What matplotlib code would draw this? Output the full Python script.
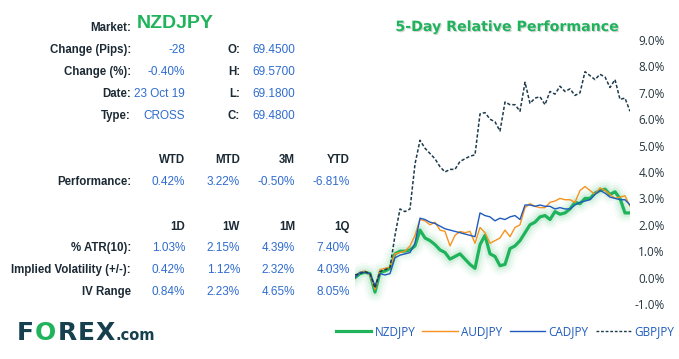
import numpy as np
import matplotlib
matplotlib.use("Agg")
import matplotlib.pyplot as plt
import matplotlib.patheffects as pe
from matplotlib.lines import Line2D

# ---------------- data ----------------
market = "NZDJPY"
info_labels = ["Change (Pips):", "Change (%):", "Date:", "Type:"]
info_values = ["-28", "-0.40%", "23 Oct 19", "CROSS"]
ohlc_labels = ["O:", "H:", "L:", "C:"]
ohlc_values = ["69.4500", "69.5700", "69.1800", "69.4800"]

perf_headers = ["WTD", "MTD", "3M", "YTD"]
perf_values = ["0.42%", "3.22%", "-0.50%", "-6.81%"]

vol_headers = ["1D", "1W", "1M", "1Q"]
vol_labels = ["% ATR(10):", "Implied Volatility (+/-):", "IV Range"]
atr_values = ["1.03%", "2.15%", "4.39%", "7.40%"]
iv_values = ["0.42%", "1.12%", "2.32%", "4.03%"]
ivr_values = ["0.84%", "2.23%", "4.65%", "8.05%"]

series_names = ["NZDJPY", "AUDJPY", "CADJPY", "GBPJPY"]

nzdjpy = [0.0, 0.15, 0.2, 0.15, -0.55, 0.2, 0.25, 0.35, 0.9, 1.0,
          1.0, 1.05, 1.2, 1.8, 1.5, 1.4, 1.25, 1.05, 0.95, 0.7,
          0.8, 0.9, 0.7, 0.5, 0.35, 1.25, 1.6, 0.9, 0.8, 0.45,
          0.5, 1.1, 1.2, 1.4, 1.7, 2.0, 2.1, 2.3, 2.35, 2.2,
          2.5, 2.4, 2.45, 2.6, 2.85, 2.8, 3.0, 3.0, 3.2, 3.3,
          3.35, 3.15, 3.25, 3.0, 2.45, 2.45]
audjpy = [0.05, 0.2, 0.25, 0.1, -0.45, 0.3, 0.35, 0.4, 0.9, 0.95,
          1.0, 1.2, 1.6, 2.2, 2.15, 2.0, 2.1, 1.8, 1.75, 1.2,
          1.6, 1.75, 1.7, 1.75, 1.3, 1.9, 1.7, 1.3, 1.4, 1.5,
          1.8, 1.55, 1.9, 2.0, 2.65, 2.8, 2.7, 2.65, 2.65, 2.85,
          2.9, 3.0, 2.95, 2.95, 2.85, 3.3, 3.45, 3.3, 3.15, 3.4,
          3.3, 3.15, 3.0, 3.05, 3.1, 2.7]
cadjpy = [0.0, 0.2, 0.2, 0.15, -0.3, 0.15, 0.1, 0.15, 0.75, 0.85,
          0.9, 0.95, 1.3, 2.25, 2.2, 2.1, 2.05, 1.95, 1.85, 1.8,
          1.75, 1.7, 1.65, 1.6, 1.55, 2.45, 2.35, 2.3, 2.15, 2.25,
          2.2, 2.3, 2.35, 2.2, 2.75, 2.75, 2.7, 2.75, 2.7, 2.7,
          2.6, 2.65, 2.6, 2.6, 2.75, 2.85, 2.9, 2.95, 3.15, 3.3,
          3.2, 3.05, 3.0, 2.95, 2.95, 2.75]
gbpjpy = [0.1, 0.15, 0.23, 0.15, -0.4, 0.23, 0.3, 0.38, 1.6, 2.6,
          2.5, 2.6, 4.3, 5.2, 4.9, 4.7, 4.5, 4.2, 4.0, 4.1,
          4.1, 4.4, 4.5, 4.6, 4.65, 6.2, 6.25, 6.0, 5.9, 5.55,
          6.65, 6.55, 6.55, 6.3, 7.4, 6.6, 6.8, 6.85, 6.55, 7.05,
          6.95, 7.25, 7.05, 7.15, 6.9, 7.0, 7.8, 7.65, 7.5, 7.7,
          7.6, 7.2, 7.5, 6.75, 6.8, 6.3]

ytick_values = [-1, 0, 1, 2, 3, 4, 5, 6, 7, 8, 9]

# ---------------- style ----------------
W, H = 679, 359
GREEN = "#1fb35c"
ORANGE = "#f7931e"
BLUE = "#1f5bbd"
DARK = "#1d3b4d"
LABEL = "#1c2a35"
VALUE = "#2f6ccf"

fig = plt.figure(figsize=(W / 100, H / 100), dpi=100)
renderer = fig.canvas.get_renderer()

def fx(x):
    return x / W

def fy(y):
    return 1 - y / H

TF = "Liberation Sans"
FS = 8.3

# ---------------- left table ----------------
fig.text(fx(131), fy(28), "Market:", ha="right", va="center", fontsize=FS,
         fontweight="bold", color=LABEL, family=TF)
fig.text(fx(137), fy(23), market, ha="left", va="center", fontsize=14,
         fontweight="bold", color=GREEN, family=TF)

rows_y = [50, 72, 94, 116]
for lab, val, ol, ov, y in zip(info_labels, info_values, ohlc_labels, ohlc_values, rows_y):
    fig.text(fx(131), fy(y), lab, ha="right", va="center", fontsize=FS,
             fontweight="bold", color=LABEL, family=TF)
    fig.text(fx(185), fy(y), val, ha="right", va="center", fontsize=FS + 0.2,
             color=VALUE, family=TF)
    fig.text(fx(240), fy(y), ol, ha="right", va="center", fontsize=FS,
             fontweight="bold", color=LABEL, family=TF)
    fig.text(fx(295), fy(y), ov, ha="right", va="center", fontsize=FS + 0.2,
             color=VALUE, family=TF)

cols_x = [185, 240, 295, 350]
for hd, x in zip(perf_headers, cols_x):
    fig.text(fx(x), fy(160), hd, ha="right", va="center", fontsize=FS,
             fontweight="bold", color=LABEL, family=TF)
fig.text(fx(131), fy(182), "Performance:", ha="right", va="center", fontsize=FS,
         fontweight="bold", color=LABEL, family=TF)
for v, x in zip(perf_values, cols_x):
    fig.text(fx(x), fy(182), v, ha="right", va="center", fontsize=FS + 0.2,
             color=VALUE, family=TF)

for hd, x in zip(vol_headers, cols_x):
    fig.text(fx(x), fy(227), hd, ha="right", va="center", fontsize=FS,
             fontweight="bold", color=LABEL, family=TF)
for lab, vals, y in zip(vol_labels, [atr_values, iv_values, ivr_values], [248, 270, 292]):
    fig.text(fx(131), fy(y), lab, ha="right", va="center", fontsize=FS,
             fontweight="bold", color=LABEL, family=TF)
    for v, x in zip(vals, cols_x):
        fig.text(fx(x), fy(y), v, ha="right", va="center", fontsize=FS + 0.2,
                 color=VALUE, family=TF)

# ---------------- logo ----------------
LOGO = "#17404f"
cur = 17.0
for ch, col in zip("FOREX", [LOGO, GREEN, LOGO, LOGO, LOGO]):
    t = fig.text(fx(cur), fy(333), ch, ha="left", va="center", fontsize=18,
                 fontweight="heavy", color=col, family="DejaVu Sans")
    bb = t.get_window_extent(renderer=renderer)
    cur += bb.width + 1.0
t = fig.text(fx(cur), fy(335), ".com", ha="left", va="center", fontsize=10.5,
             fontweight="bold", color=LOGO, family="DejaVu Sans")

# ---------------- chart ----------------
left, right = 355, 630
top, bottom = 40, 304
ax = fig.add_axes([fx(left), fy(bottom), (right - left) / W, (bottom - top) / H])
x = np.arange(len(nzdjpy))

glow = [pe.Stroke(linewidth=14, foreground=GREEN, alpha=0.04),
        pe.Stroke(linewidth=10, foreground=GREEN, alpha=0.06),
        pe.Stroke(linewidth=6, foreground=GREEN, alpha=0.10),
        pe.Normal()]
l1, = ax.plot(x, nzdjpy, color=GREEN, lw=2.3, path_effects=glow, solid_joinstyle="round")
l2, = ax.plot(x, audjpy, color=ORANGE, lw=1.0)
l3, = ax.plot(x, cadjpy, color=BLUE, lw=1.0)
l4, = ax.plot(x, gbpjpy, color=DARK, lw=1.1, linestyle=(0, (2.2, 1.3)))

ax.set_xlim(0, len(nzdjpy) - 1)
ax.set_ylim(-1, 9)
ax.set_xticks([])
ax.yaxis.tick_right()
ax.set_yticks(ytick_values)
ax.set_yticklabels([f"{v:.1f}%" for v in ytick_values])
ax.tick_params(axis="y", length=0, pad=25, labelsize=8.5, labelcolor="#26363f")
for lab in ax.get_yticklabels():
    lab.set_horizontalalignment("right")
    lab.set_family("Open Sans")
for s in ax.spines.values():
    s.set_visible(False)
ax.patch.set_alpha(0)

fig.text(fx(507), fy(27), "5-Day Relative Performance", ha="center", va="center",
         fontsize=10.2, fontweight="bold", color=GREEN, family="DejaVu Sans",
         path_effects=[pe.withSimplePatchShadow(offset=(0.8, -0.8), shadow_rgbFace="#888888", alpha=0.35)])

# ---------------- legend ----------------
h1 = Line2D([], [], color=GREEN, lw=2.3)
h2 = Line2D([], [], color=ORANGE, lw=1.0)
h3 = Line2D([], [], color=BLUE, lw=1.0)
h4 = Line2D([], [], color=DARK, lw=1.0, linestyle=(0, (2.0, 1.3)))
leg = fig.legend([h1, h2, h3, h4], series_names, loc="center",
                 bbox_to_anchor=(fx(505), fy(332)), ncol=4, frameon=False,
                 handlelength=3.0, handletextpad=0.3, columnspacing=0.6,
                 prop={"family": "Open Sans", "size": 8.5})
for t in leg.get_texts():
    t.set_color(BLUE)

fig.savefig("out.png", dpi=100)
